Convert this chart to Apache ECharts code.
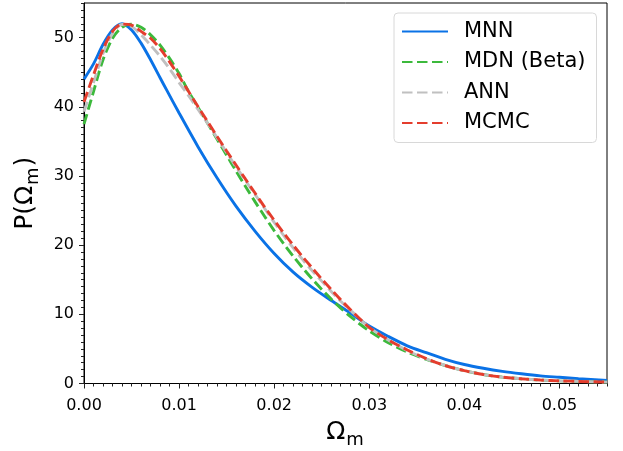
<!DOCTYPE html>
<html>
<head>
<meta charset="utf-8">
<script src="https://cdn.jsdelivr.net/npm/echarts@6/dist/echarts.min.js"></script>
<style>
html,body{margin:0;padding:0;background:#fff;}
#chart{width:623px;height:451px;}
</style>
</head>
<body>
<div id="chart"></div>
<script>
// ---- data ----
const seriesNames = ['MNN', 'MDN (Beta)', 'ANN', 'MCMC'];

const mnnX = [0, 0.001, 0.002, 0.003, 0.004, 0.005, 0.006, 0.007, 0.008, 0.0087, 0.010, 0.012, 0.014, 0.016, 0.018, 0.020, 0.022, 0.024, 0.026, 0.028, 0.030, 0.032, 0.034, 0.036, 0.038, 0.040, 0.042, 0.044, 0.046, 0.048, 0.050, 0.052, 0.055];
const mnnY = [44.0, 46.2, 49.0, 51.1, 52.0, 51.1, 49.2, 46.8, 44.2, 42.4, 39.1, 34.2, 29.7, 25.6, 22.0, 18.8, 16.1, 13.9, 12.0, 10.2, 8.3, 6.8, 5.45, 4.45, 3.5, 2.75, 2.2, 1.75, 1.4, 1.1, 0.9, 0.7, 0.45];

const mdnX = [0, 0.001, 0.002, 0.003, 0.004, 0.005, 0.006, 0.007, 0.008, 0.009, 0.010, 0.011, 0.012, 0.013, 0.014, 0.015, 0.016, 0.017, 0.018, 0.019, 0.020, 0.021, 0.022, 0.023, 0.024, 0.025, 0.026, 0.027, 0.028, 0.029, 0.030, 0.032, 0.034, 0.036, 0.038, 0.040, 0.042, 0.044, 0.046, 0.048, 0.050, 0.052, 0.055];
const mdnY = [37.5, 42.2, 46.8, 49.9, 51.5, 51.95, 51.5, 50.4, 48.9, 47.0, 44.8, 42.2, 39.9, 37.6, 35.3, 33.0, 30.7, 28.45, 26.25, 24.15, 22.1, 20.2, 18.4, 16.7, 15.1, 13.6, 12.2, 10.9, 9.7, 8.6, 7.6, 5.9, 4.55, 3.5, 2.6, 1.85, 1.3, 0.92, 0.68, 0.5, 0.38, 0.3, 0.2];

const annX = [0, 0.001, 0.002, 0.003, 0.004, 0.005, 0.006, 0.007, 0.008, 0.009, 0.010, 0.011, 0.012, 0.013, 0.014, 0.015, 0.016, 0.017, 0.018, 0.019, 0.020, 0.021, 0.022, 0.023, 0.024, 0.025, 0.026, 0.027, 0.028, 0.029, 0.030, 0.032, 0.034, 0.036, 0.038, 0.040, 0.042, 0.044, 0.046, 0.048, 0.050, 0.052, 0.055];
const annY = [39.3, 43.5, 47.7, 50.6, 51.9, 51.6, 50.4, 48.9, 47.3, 45.5, 43.5, 41.6, 39.6, 37.6, 35.5, 33.4, 31.3, 29.3, 27.3, 25.3, 23.3, 21.4, 19.6, 17.9, 16.3, 14.8, 13.3, 11.9, 10.6, 9.35, 8.1, 6.3, 4.75, 3.55, 2.6, 1.85, 1.3, 0.92, 0.68, 0.5, 0.38, 0.3, 0.2];

const mcmcX = [0, 0.001, 0.002, 0.003, 0.004, 0.005, 0.006, 0.007, 0.008, 0.009, 0.010, 0.011, 0.012, 0.013, 0.014, 0.015, 0.016, 0.017, 0.018, 0.019, 0.020, 0.021, 0.022, 0.023, 0.024, 0.025, 0.026, 0.027, 0.028, 0.029, 0.030, 0.032, 0.034, 0.036, 0.038, 0.040, 0.042, 0.044, 0.046, 0.048, 0.050, 0.052, 0.055];
const mcmcY = [40.7, 44.6, 48.3, 50.9, 51.95, 51.8, 50.9, 49.9, 48.4, 46.5, 44.4, 42.2, 40.0, 37.85, 35.7, 33.6, 31.55, 29.5, 27.5, 25.5, 23.6, 21.75, 20.0, 18.3, 16.7, 15.1, 13.6, 12.1, 10.7, 9.35, 8.1, 6.3, 4.85, 3.6, 2.6, 1.85, 1.3, 0.92, 0.68, 0.5, 0.38, 0.3, 0.2];

const xMajorTicks = [0, 0.01, 0.02, 0.03, 0.04, 0.05];
const yMajorTicks = [0, 10, 20, 30, 40, 50];
const xMinorStep = 0.001;
const yMinorStep = 1;
const xMax = 0.055;
const yMax = 55;

// ---- build ----
function pairs(xs, ys) { return xs.map((x, i) => [x, ys[i]]); }
const xMinorTicks = [];
for (let i = 0; i <= Math.round(xMax / xMinorStep); i++) xMinorTicks.push(+(i * xMinorStep).toFixed(4));
const yMinorTicks = [];
for (let i = 0; i <= Math.round(yMax / yMinorStep); i++) yMinorTicks.push(i * yMinorStep);

const FONT = 'DejaVu Sans';
const chart = echarts.init(document.getElementById('chart'), null, {renderer: 'canvas'});

const colors = ['#0a72e6', '#3cb93c', '#c0c0c0', '#e43d2d'];
const dash = [10.5, 4.5];

const titleRich = {
  a: {fontFamily: FONT, fontSize: 25, color: '#000', lineHeight: 29, verticalAlign: 'top'},
  b: {fontFamily: FONT, fontSize: 18, color: '#000', lineHeight: 19, verticalAlign: 'top', padding: [12, 1, 0, 1]}
};

function lineSeries(i, xs, ys, type) {
  return {
    name: seriesNames[i], type: 'line', data: pairs(xs, ys), smooth: 0.3,
    showSymbol: false, symbol: 'none', color: colors[i],
    lineStyle: {width: 2.9, color: colors[i], type: type},
    emphasis: {disabled: true}, z: 2 + i
  };
}

const option = {
  animation: false,
  grid: {left: 84, right: 16, top: 3, bottom: 67.5, containLabel: false, outerBoundsMode: 'none', show: true, borderColor: '#000', borderWidth: 1, backgroundColor: 'transparent'},
  xAxis: [
    {
      type: 'value', min: 0, max: xMax, position: 'bottom',
      name: '{a|Ω}{b|m}', nameLocation: 'middle', nameGap: 36,
      nameTextStyle: {rich: titleRich},
      axisLine: {show: true, lineStyle: {color: '#000', width: 1}},
      axisTick: {show: true, inside: false, length: 5, lineStyle: {color: '#222', width: 1}, customValues: xMajorTicks},
      axisLabel: {show: true, margin: 14, fontFamily: FONT, fontSize: 16, color: '#000', customValues: xMajorTicks, formatter: v => v.toFixed(2)},
      splitLine: {show: false}
    },
    {
      type: 'value', min: 0, max: xMax, position: 'bottom',
      axisLine: {show: false},
      axisTick: {show: true, inside: false, length: 3, lineStyle: {color: '#222', width: 1}, customValues: xMinorTicks},
      axisLabel: {show: false},
      splitLine: {show: false}
    }
  ],
  yAxis: [
    {
      type: 'value', min: 0, max: yMax, position: 'left',
      name: '{a|P(Ω}{b|m}{a|)}', nameLocation: 'middle', nameGap: 38, nameRotate: 90,
      nameTextStyle: {rich: titleRich},
      axisLine: {show: true, lineStyle: {color: '#000', width: 1}},
      axisTick: {show: true, inside: false, length: 5, lineStyle: {color: '#222', width: 1}, customValues: yMajorTicks},
      axisLabel: {show: true, margin: 10, fontFamily: FONT, fontSize: 16, color: '#000', customValues: yMajorTicks},
      splitLine: {show: false}
    },
    {
      type: 'value', min: 0, max: yMax, position: 'left', offset: 0,
      axisLine: {show: false},
      axisTick: {show: true, inside: false, length: 3, lineStyle: {color: '#222', width: 1}, customValues: yMinorTicks},
      axisLabel: {show: false},
      splitLine: {show: false}
    }
  ],
  legend: {
    orient: 'vertical', left: 394, top: 13,
    padding: [6.5, 11, 7.5, 7],
    itemWidth: 46, itemHeight: 14, itemGap: 6.5,
    itemStyle: {opacity: 0},
    backgroundColor: 'rgba(255,255,255,0.8)', borderColor: '#d8d8d8', borderWidth: 1, borderRadius: 4,
    textStyle: {fontFamily: FONT, fontSize: 21, color: '#000', lineHeight: 24, padding: [0, 0, 0, 11]},
    data: seriesNames
  },
  series: [
    lineSeries(0, mnnX, mnnY, 'solid'),
    lineSeries(1, mdnX, mdnY, dash),
    lineSeries(2, annX, annY, dash),
    lineSeries(3, mcmcX, mcmcY, dash)
  ]
};
chart.setOption(option);
</script>
</body>
</html>
